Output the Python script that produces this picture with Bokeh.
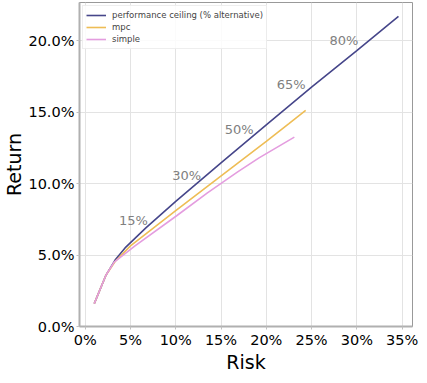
from bokeh.plotting import figure
from bokeh.models import Range1d, PrintfTickFormatter, FixedTicker, Legend, LegendItem
from bokeh.embed import file_html
from bokeh.resources import INLINE
from bokeh.core.properties import value

# Data (risk %, return %)
ceil_x = [1.0, 2.3, 3.3, 4.4, 6.7, 10.0, 15.0, 20.0, 25.0, 30.0, 34.6]
ceil_y = [1.6, 3.6, 4.65, 5.5, 6.9, 8.75, 11.45, 14.1, 16.75, 19.3, 21.7]

mpc_x = [1.0, 2.3, 3.3, 5.0, 10.0, 15.7, 20.0, 22.5, 24.35]
mpc_y = [1.6, 3.6, 4.55, 5.64, 8.1, 10.87, 12.95, 14.2, 15.13]

simple_x = [1.0, 2.3, 3.2, 5.5, 10.1, 13.5, 16.8, 19.2, 23.1]
simple_y = [1.6, 3.6, 4.5, 5.64, 7.75, 9.35, 10.8, 11.8, 13.25]

alt_labels = ["15%", "30%", "50%", "65%", "80%"]
alt_label_x = [5.32, 11.2, 17.0, 22.76, 28.57]
alt_label_y = [7.42, 10.6, 13.75, 16.9, 20.0]

x_ticks = [0, 5, 10, 15, 20, 25, 30, 35]
y_ticks = [0, 5, 10, 15, 20]

FONT = "DejaVu Sans"

p = figure(width=419, height=375, output_backend="svg", toolbar_location=None,
           x_range=Range1d(-0.63, 36.15), y_range=Range1d(0, 22.67),
           min_border_left=64, min_border_right=7, min_border_top=2, min_border_bottom=40)

p.background_fill_color = "white"
p.outline_line_color = "#999999"
p.outline_line_width = 1

r1 = p.line(ceil_x, ceil_y, line_color="#46468a", line_width=1.6)
r2 = p.line(mpc_x, mpc_y, line_color="#eebd55", line_width=1.6)
r3 = p.line(simple_x, simple_y, line_color="#e49ddf", line_width=1.6)

p.text(x=alt_label_x, y=alt_label_y, text=alt_labels, text_color="#808080",
       text_font=value(FONT), text_font_size="13px",
       text_align="center", text_baseline="middle")

for ax in (p.xaxis[0], p.yaxis[0]):
    ax.axis_line_color = "#b0b0b0"
    ax.axis_line_width = 2
    ax.major_tick_line_color = "#c0c0c0"
    ax.major_tick_out = 3
    ax.major_tick_in = 0
    ax.minor_tick_line_color = None
    ax.major_label_text_font = FONT
    ax.major_label_text_font_size = "14.5px"
    ax.major_label_text_color = "black"
    ax.axis_label_text_font = FONT
    ax.axis_label_text_font_size = "19px"
    ax.axis_label_text_font_style = "normal"
    ax.axis_label_text_color = "black"
    ax.major_label_standoff = 2
    ax.axis_label_standoff = 0

p.xaxis.ticker = FixedTicker(ticks=x_ticks)
p.yaxis.ticker = FixedTicker(ticks=y_ticks)
p.xaxis.formatter = PrintfTickFormatter(format="%d%%")
p.yaxis.formatter = PrintfTickFormatter(format="%.1f%%")
p.xaxis.axis_label = "Risk"
p.yaxis.axis_label = "Return"

p.xgrid.ticker = FixedTicker(ticks=x_ticks)
p.ygrid.ticker = FixedTicker(ticks=y_ticks)
p.grid.grid_line_color = "#e3e3e3"
p.grid.grid_line_width = 1

legend = Legend(items=[
    LegendItem(label="performance ceiling (% alternative)", renderers=[r1]),
    LegendItem(label="mpc", renderers=[r2]),
    LegendItem(label="simple", renderers=[r3]),
], location="top_left")
legend.label_text_font = FONT
legend.label_text_font_size = "8.5px"
legend.label_height = 12
legend.glyph_height = 12
legend.glyph_width = 20
legend.label_standoff = 6
legend.spacing = 0
legend.padding = 3
legend.margin = 3
legend.border_line_color = "#dddddd"
legend.background_fill_alpha = 0.85
p.add_layout(legend)

open("out.html", "w").write(file_html(p, INLINE))
